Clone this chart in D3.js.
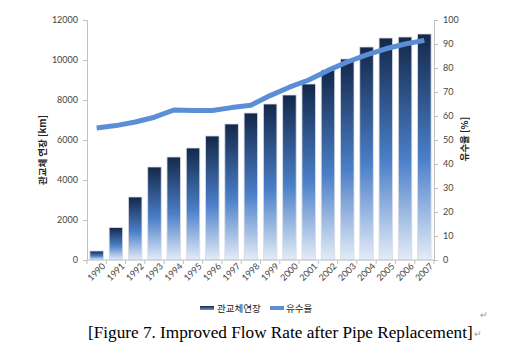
<!DOCTYPE html>
<html>
<head>
<meta charset="utf-8">
<script src="https://cdn.jsdelivr.net/npm/d3@7"></script>
<style>
  body { margin: 0; background: #fff; }
  svg { display: block; font-family: "Open Sans", "Noto Sans CJK KR", sans-serif; }
</style>
</head>
<body>
<div id="chart"></div>
<script>
// chart values
const years = ['1990','1991','1992','1993','1994','1995','1996','1997','1998',
               '1999','2000','2001','2002','2003','2004','2005','2006','2007'];
const pipeLength = [450, 1620, 3150, 4650, 5150, 5600, 6200, 6800, 7350,
                    7800, 8250, 8800, 9500, 10050, 10650, 11100, 11150, 11300];
const flowRate = [55, 56, 57.5, 59.5, 62.5, 62.3, 62.3, 63.5, 64.5,
                  68.5, 72, 75, 79, 82.5, 85.5, 88, 90, 91.5];
const leftTicks = [0, 2000, 4000, 6000, 8000, 10000, 12000];
const rightTicks = [0, 10, 20, 30, 40, 50, 60, 70, 80, 90, 100];
const seriesNames = ['관교체연장', '유수율'];

const W = 508, H = 354;
const margin = { top: 20, left: 87, right: 74, bottom: 94 };
const width = W - margin.left - margin.right;
const height = H - margin.top - margin.bottom;

const svg = d3.select('#chart').append('svg')
    .attr('width', W).attr('height', H);

// vertical gradient per bar
const defs = svg.append('defs');
const grad = defs.append('linearGradient').attr('id', 'barGrad')
    .attr('x1', 0).attr('y1', 0).attr('x2', 0).attr('y2', 1);
grad.append('stop').attr('offset', '0%').attr('stop-color', '#14284a');
grad.append('stop').attr('offset', '55%').attr('stop-color', '#4a7fc8');
grad.append('stop').attr('offset', '100%').attr('stop-color', '#e4ecf8');
const lgGrad = defs.append('linearGradient').attr('id', 'legGrad')
    .attr('x1', 0).attr('y1', 0).attr('x2', 0).attr('y2', 1);
lgGrad.append('stop').attr('offset', '0%').attr('stop-color', '#14284a');
lgGrad.append('stop').attr('offset', '100%').attr('stop-color', '#6d98d4');

const plot = svg.append('g').attr('transform', `translate(${margin.left},${margin.top})`);

const x = d3.scaleBand().domain(years).range([0, width]).paddingInner(0.3).paddingOuter(0.15);
const yL = d3.scaleLinear().domain([0, 12000]).range([height, 0]);
const yR = d3.scaleLinear().domain([0, 100]).range([height, 0]);

// bars
plot.append('g').selectAll('rect').data(years).join('rect')
    .attr('x', d => x(d))
    .attr('y', (d, i) => yL(pipeLength[i]))
    .attr('width', x.bandwidth())
    .attr('height', (d, i) => height - yL(pipeLength[i]))
    .attr('fill', 'url(#barGrad)')
    .attr('stroke', '#d8dce4')
    .attr('stroke-width', 0.8);

// line
const line = d3.line()
    .x((d, i) => x(years[i]) + x.bandwidth() / 2)
    .y(d => yR(d));
plot.append('path').datum(flowRate)
    .attr('d', line)
    .attr('fill', 'none')
    .attr('stroke', '#5a8fd8')
    .attr('stroke-width', 5)
    .attr('stroke-linejoin', 'round');

// axes
const axisColor = '#c0c0c0';
const tickColor = '#444';

const gL = plot.append('g')
    .call(d3.axisLeft(yL).tickValues(leftTicks).tickFormat(d3.format('d')).tickSize(4).tickPadding(5));
const gR = plot.append('g').attr('transform', `translate(${width},0)`)
    .call(d3.axisRight(yR).tickValues(rightTicks).tickFormat(d3.format('d')).tickSize(4).tickPadding(5));
const gX = plot.append('g').attr('transform', `translate(0,${height})`)
    .call(d3.axisBottom(x).tickSize(0).tickPadding(6));

// x tick marks sit between categories
const step = x.step();
plot.append('g').selectAll('line').data(d3.range(years.length + 1)).join('line')
    .attr('x1', i => x(years[0]) - step * 0.15 + i * step)
    .attr('x2', i => x(years[0]) - step * 0.15 + i * step)
    .attr('y1', height).attr('y2', height + 4)
    .attr('stroke', axisColor);

[gL, gR, gX].forEach(g => {
    g.select('.domain').attr('stroke', axisColor);
    g.selectAll('.tick line').attr('stroke', axisColor);
    g.selectAll('.tick text').attr('fill', tickColor).style('font-size', '9px')
        .style('font-family', 'Lato, "Open Sans", sans-serif');
});
gX.select('.domain').attr('d', `M0,0H${width}`);
gX.selectAll('.tick text')
    .attr('text-anchor', 'end')
    .attr('dx', '0.2em').attr('dy', '0.6em')
    .attr('transform', 'rotate(-45)');

// axis titles
svg.append('text')
    .attr('transform', `translate(46,${margin.top + height / 2 + 10}) rotate(-90)`)
    .attr('text-anchor', 'middle')
    .style('font-size', '9.5px').style('font-weight', 'bold')
    .style('font-family', '"Noto Sans CJK KR", sans-serif')
    .attr('fill', '#222')
    .text('관교체 연장 [km]');
svg.append('text')
    .attr('transform', `translate(468,${margin.top + height / 2 - 1}) rotate(-90)`)
    .attr('text-anchor', 'middle')
    .style('font-size', '9.5px').style('font-weight', 'bold')
    .style('font-family', '"Noto Sans CJK KR", sans-serif')
    .attr('fill', '#222')
    .text('유수율 [%]');

// legend
const legend = svg.append('g').attr('transform', 'translate(200,308)');
legend.append('rect').attr('x', 0).attr('y', -2).attr('width', 14).attr('height', 4)
    .attr('fill', 'url(#legGrad)');
legend.append('text').attr('x', 17).attr('y', 3.5)
    .style('font-size', '9.5px').style('font-family', '"Noto Sans CJK KR", sans-serif')
    .attr('fill', '#222').text(seriesNames[0]);
legend.append('line').attr('x1', 70).attr('x2', 84).attr('y1', 0).attr('y2', 0)
    .attr('stroke', '#5a8fd8').attr('stroke-width', 4);
legend.append('text').attr('x', 86).attr('y', 3.5)
    .style('font-size', '9.5px').style('font-family', '"Noto Sans CJK KR", sans-serif')
    .attr('fill', '#222').text(seriesNames[1]);

// caption
svg.append('text').attr('x', 88).attr('y', 338)
    .style('font-family', '"Liberation Serif", "Times New Roman", serif')
    .style('font-size', '17.2px')
    .attr('fill', '#000')
    .text('[Figure 7. Improved Flow Rate after Pipe Replacement]');
svg.append('text').attr('x', 474).attr('y', 337)
    .style('font-size', '9px').attr('fill', '#999').text('↵');
svg.append('text').attr('x', 480).attr('y', 318)
    .style('font-size', '9px').attr('fill', '#999').text('↵');
</script>
</body>
</html>
